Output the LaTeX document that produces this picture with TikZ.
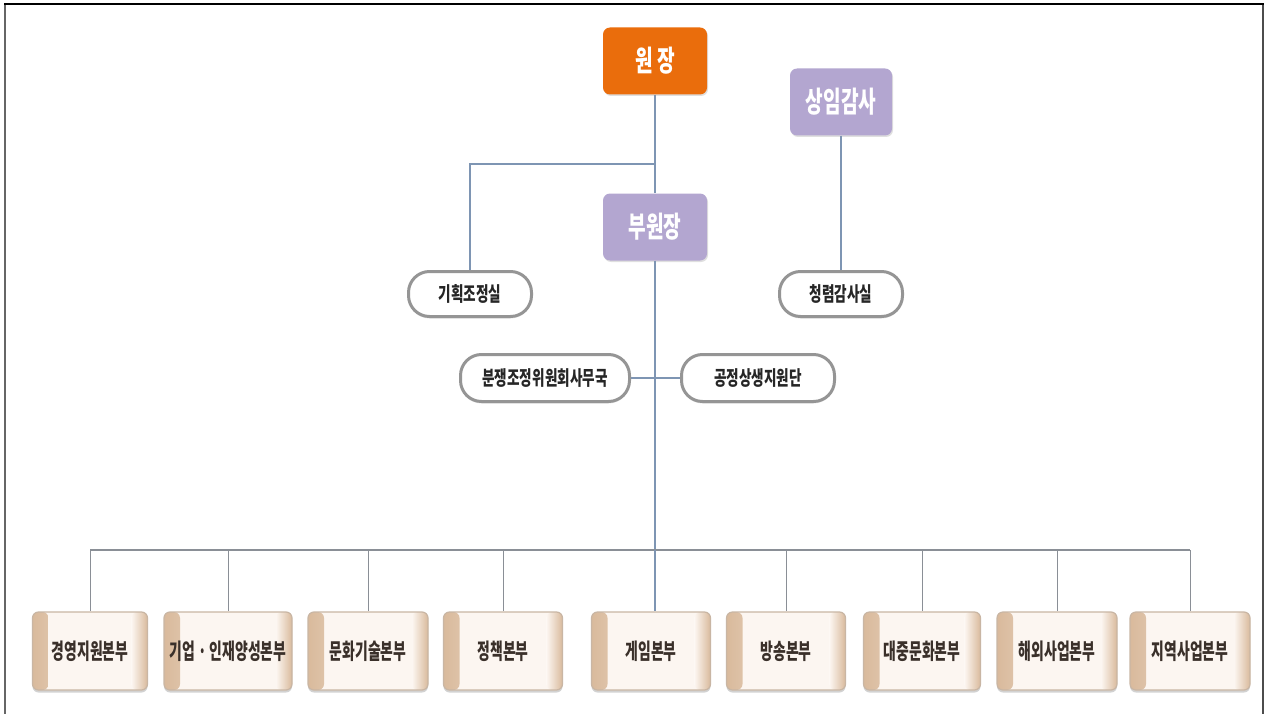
\documentclass[tikz,border=0pt]{standalone}
\usepackage{fontspec}
\usetikzlibrary{shadows}
\newfontfamily\krtop[FakeStretch=0.66]{Noto Sans CJK KR}
\newfontfamily\krpill[FakeStretch=0.68]{Noto Sans CJK KR}
\newfontfamily\krunit[FakeStretch=0.63]{Noto Sans CJK KR}
\definecolor{orangebox}{HTML}{EA6D0C}
\definecolor{lavbox}{HTML}{B3A6D0}
\definecolor{pillline}{HTML}{959595}
\definecolor{conn}{HTML}{7E95B3}
\definecolor{busline}{HTML}{8A8F96}
\definecolor{cream}{HTML}{FCF6F1}
\definecolor{tanc}{HTML}{D9BA9C}
\definecolor{unitborder}{HTML}{C9B6A4}
\definecolor{unittext}{HTML}{3A302A}
\tikzset{
  topbox/.style={rounded corners=7pt, minimum width=104pt, minimum height=67pt, inner sep=0pt, text=white,
    font=\krtop\bfseries\fontsize{29pt}{31pt}\selectfont, drop shadow={shadow xshift=1pt, shadow yshift=-1.5pt, opacity=0.25}},
  pill/.style={draw=pillline, line width=3pt, fill=white, rounded corners=21pt, minimum height=45pt, inner sep=0pt,
    text=black!85, font=\krpill\bfseries\fontsize{20pt}{22pt}\selectfont, drop shadow={shadow xshift=0pt, shadow yshift=-2pt, opacity=0.2}},
  unit/.style={draw=unitborder, line width=1.2pt, fill=cream, rounded corners=6pt, minimum height=78pt, inner sep=0pt,
    text=unittext, font=\krunit\bfseries\fontsize{22pt}{24pt}\selectfont,
    drop shadow={shadow xshift=0pt, shadow yshift=-2.5pt, opacity=0.35},
    path picture={
      \shade[left color=tanc, right color=cream] (path picture bounding box.south west) rectangle ([xshift=16pt]path picture bounding box.north west);
      \shade[left color=cream, right color=tanc] ([xshift=-16pt]path picture bounding box.south east) rectangle (path picture bounding box.north east);
    }},
  conline/.style={draw=conn, line width=1.1pt},
  busl/.style={draw=busline, line width=1.6pt},
}
\begin{document}
\begin{tikzpicture}[x=1pt,y=-1pt]
\useasboundingbox (0,0) rectangle (1265,714);
\fill[white] (0,0) rectangle (1265,714);
% frame
\draw[black!60, line width=2pt] (5,4) -- (5,714);
\draw[black!70, line width=2pt] (1263,4) -- (1263,714);
\draw[black, line width=1.5pt] (4,4) -- (1264,4);

% top nodes
\node[topbox, fill=orangebox] (won) at (655,61) {원 장};
\node[topbox, fill=lavbox, minimum width=102pt] (sang) at (841,102) {상임감사};
\node[topbox, fill=lavbox] (buwon) at (655,227) {부원장};

% pills
\node[pill, minimum width=123pt] (gihoek) at (470,294) {기획조정실};
\node[pill, minimum width=123pt] (cheong) at (841,294) {청렴감사실};
\node[pill, minimum width=169pt, minimum height=47pt] (bunjaeng) at (545,378) {분쟁조정위원회사무국};
\node[pill, minimum width=153pt, minimum height=47pt] (gongjeong) at (758,378) {공정상생지원단};

% bottom units
\node[unit, minimum width=115pt] (u1) at (90,651) {경영지원본부};
\node[unit, minimum width=128pt] (u2) at (228,651) {기업 · 인재양성본부};
\node[unit, minimum width=120pt] (u3) at (368,651) {문화기술본부};
\node[unit, minimum width=119pt] (u4) at (503,651) {정책본부};
\node[unit, minimum width=119pt] (u5) at (651,651) {게임본부};
\node[unit, minimum width=119pt] (u6) at (786,651) {방송본부};
\node[unit, minimum width=117pt] (u7) at (922,651) {대중문화본부};
\node[unit, minimum width=120pt] (u8) at (1057,651) {해외사업본부};
\node[unit, minimum width=120pt] (u9) at (1190,651) {지역사업본부};

% connectors
\coordinate (j1) at (655,164);
\coordinate (bus) at (655,550);
\draw[conline] (won.south) -- (buwon.north);
\draw[conline] (j1) -| (gihoek.north);
\draw[conline] (sang.south) -- (cheong.north);
\draw[conline] (buwon.south) -- (bus);
\draw[conline] (bunjaeng.east) -- (gongjeong.west);
\draw[busl] (bus -| u1.north) -- (bus -| u9.north);
\foreach \u in {u1,u2,u3,u4,u6,u7,u8,u9}{
  \draw[busl, line width=1pt] (bus -| \u.north) -- (\u.north);
}
\draw[conline] (bus) -- (bus |- u5.north);
\end{tikzpicture}
\end{document}
